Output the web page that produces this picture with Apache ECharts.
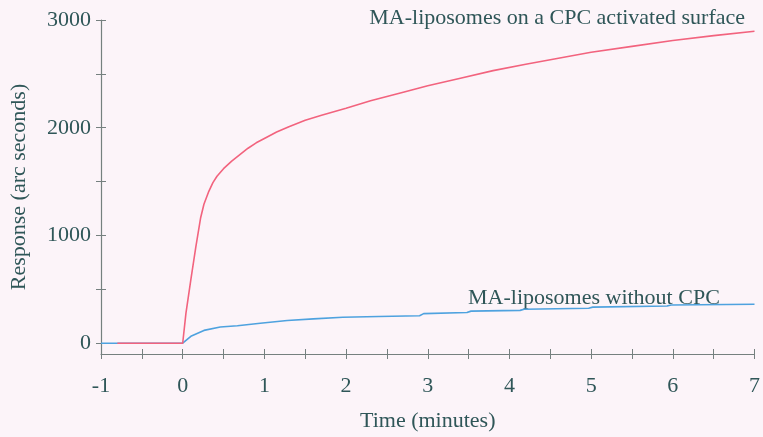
<!DOCTYPE html>
<html>
<head>
<meta charset="utf-8">
<script src="https://cdn.jsdelivr.net/npm/echarts@6/dist/echarts.min.js"></script>
<style>
  html, body { margin: 0; padding: 0; background: #fcf4f9; }
  #chart { width: 763px; height: 437px; }
</style>
</head>
<body>
<div id="chart"></div>
<script>
// Binding response over time, minutes vs arc seconds
var timeTicks = [-1, 0, 1, 2, 3, 4, 5, 6, 7];
var responseLabels = [0, 1000, 2000, 3000];
var responseTicks = [0, 500, 1000, 1500, 2000, 2500, 3000];

var cpcTime = [-0.8, 0, 0.04, 0.1, 0.16, 0.22, 0.26, 0.32, 0.37, 0.42, 0.5, 0.6, 0.7, 0.8, 0.9, 1.0, 1.15, 1.3, 1.5, 1.7, 2.0, 2.3, 2.5, 2.7, 3.0, 3.4, 3.8, 4.2, 4.6, 5.0, 5.5, 6.0, 6.5, 7.0];
var cpcResponse = [0, 0, 280, 590, 890, 1165, 1290, 1410, 1490, 1550, 1620, 1690, 1750, 1810, 1860, 1900, 1960, 2010, 2070, 2115, 2180, 2250, 2290, 2330, 2390, 2460, 2530, 2590, 2645, 2700, 2755, 2810, 2855, 2895];

var plainTime = [-1, 0, 0.1, 0.26, 0.46, 0.67, 0.95, 1.28, 1.6, 1.96, 2.4, 2.9, 2.95, 3.48, 3.53, 4.13, 4.18, 4.97, 5.02, 5.93, 5.98, 7.0];
var plainResponse = [0, 0, 64, 119, 150, 162, 186, 211, 226, 241, 248, 255, 275, 285, 298, 305, 315, 325, 335, 345, 355, 362];

var cpcName = 'MA-liposomes on a CPC activated surface';
var plainName = 'MA-liposomes without CPC';

function pairs(xs, ys) {
  return xs.map(function (x, i) { return [x, ys[i]]; });
}

var font = 'Liberation Serif';
var textColor = '#2f5658';
var axisColor = '#75807f';
var plain = function (v) { return String(v); };

var chart = echarts.init(document.getElementById('chart'), null, { renderer: 'canvas' });

var baseX = {
  type: 'value', min: timeTicks[0], max: timeTicks[timeTicks.length - 1], interval: 1,
  position: 'bottom', splitLine: { show: false }
};
var baseY = {
  type: 'value', min: -100, max: 3000,
  position: 'left', splitLine: { show: false }
};

chart.setOption({
  backgroundColor: '#fcf4f9',
  animation: false,
  grid: { left: 100, right: 7, top: 20, bottom: 79 },
  xAxis: [
    Object.assign({}, baseX, {
      name: 'Time (minutes)', nameLocation: 'middle', nameGap: 56,
      nameTextStyle: { fontFamily: font, fontSize: 22, color: textColor },
      axisLine: { onZero: false, lineStyle: { color: axisColor, width: 1.2 } },
      axisTick: { length: 5, lineStyle: { color: axisColor } },
      minorTick: { show: true, splitNumber: 2, length: 5, lineStyle: { color: axisColor } },
      axisLabel: { fontFamily: font, fontSize: 22, color: textColor, margin: 21,
        customValues: timeTicks, formatter: plain }
    }),
    Object.assign({}, baseX, {
      axisLine: { show: false, onZero: false },
      axisTick: { inside: true, length: 5, lineStyle: { color: axisColor } },
      minorTick: { show: true, splitNumber: 2, length: 5, lineStyle: { color: axisColor } },
      axisLabel: { show: false }
    })
  ],
  yAxis: [
    Object.assign({}, baseY, {
      name: 'Response (arc seconds)', nameLocation: 'middle', nameGap: 71,
      nameTextStyle: { fontFamily: font, fontSize: 22, color: textColor },
      axisLine: { show: true, onZero: false, lineStyle: { color: axisColor, width: 1.2 } },
      axisTick: { show: true, length: 5, customValues: responseTicks, lineStyle: { color: axisColor } },
      axisLabel: { fontFamily: font, fontSize: 22, color: textColor, margin: 10,
        customValues: responseLabels, formatter: plain }
    }),
    Object.assign({}, baseY, {
      axisLine: { show: false, onZero: false },
      axisTick: { show: true, inside: true, length: 5, customValues: responseTicks, lineStyle: { color: axisColor } },
      axisLabel: { show: false }
    })
  ],
  series: [
    {
      name: plainName, type: 'line', xAxisIndex: 0, yAxisIndex: 0,
      data: pairs(plainTime, plainResponse), showSymbol: false,
      lineStyle: { color: '#4ea2df', width: 1.6 }, z: 2
    },
    {
      name: cpcName, type: 'line', xAxisIndex: 0, yAxisIndex: 0,
      data: pairs(cpcTime, cpcResponse), showSymbol: false,
      lineStyle: { color: '#f2637e', width: 1.6 }, z: 3
    }
  ],
  graphic: [
    { type: 'text', right: 18, top: 7,
      style: { text: cpcName, fontFamily: font, fontSize: 22, fill: textColor } },
    { type: 'text', left: 468, top: 287,
      style: { text: plainName, fontFamily: font, fontSize: 22, fill: textColor } }
  ]
});
</script>
</body>
</html>
